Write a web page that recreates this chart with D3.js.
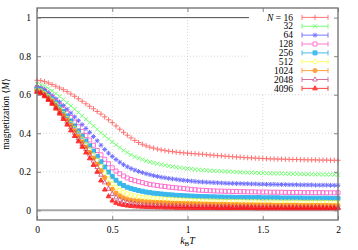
<!DOCTYPE html>
<html><head><meta charset="utf-8">
<script src="https://cdn.jsdelivr.net/npm/d3@7"></script>
<style>
html,body{margin:0;padding:0;background:#fff;}
svg{display:block;}
text{font-family:"Liberation Serif","DejaVu Serif",serif;fill:#000;}
</style></head>
<body>
<svg id="chart" width="358" height="250"></svg>
<script>
// ---- data ----
const sizes = ["16","32","64","128","256","512","1024","2048","4096"];
const xTicks = [0, 0.5, 1, 1.5, 2];
const xTickLabels = ["0","0.5","1","1.5","2"];
const yTicks = [0, 0.2, 0.4, 0.6, 0.8, 1];
const yTickLabels = ["0","0.2","0.4","0.6","0.8","1"];
const temps = d3.range(81).map(i => +(i * 0.025).toFixed(3));

const m16 = [.675,.673,.668,.661,.653,.644,.635,.626,.616,.604,.592,.579,.566,.553,.54,.527,.513,.5,.485,.47,.455,.438,.421,.405,.39,.376,.363,.352,.343,.335,.328,.323,.318,.314,.31,.307,.305,.302,.3,.298,.297,
.295,.294,.292,.291,.289,.287,.286,.284,.283,.281,.28,.278,.277,.276,.274,.273,.272,.271,.27,.269,.268,.267,.267,.266,.266,.265,.265,.264,.264,.263,.263,.262,.262,.262,.261,.261,.261,.26,.26,.26];
const m32 = [.655,.652,.645,.633,.62,.606,.592,.575,.558,.542,.525,.508,.491,.473,.456,.438,.42,.403,.387,.371,.355,.34,.326,.312,.3,.289,.279,.271,.264,.257,.251,.246,.242,.238,.234,.23,.227,.224,.222,.219,.217,
.215,.213,.211,.209,.208,.206,.205,.204,.203,.202,.201,.2,.199,.198,.197,.196,.196,.195,.194,.193,.193,.192,.192,.191,.191,.19,.19,.189,.189,.188,.188,.188,.187,.187,.187,.186,.186,.186,.185,.185];
const m64 = [.64,.636,.627,.612,.596,.579,.562,.544,.525,.505,.485,.465,.445,.425,.405,.383,.361,.338,.316,.297,.28,.264,.25,.237,.226,.217,.209,.202,.196,.19,.185,.18,.176,.172,.169,.166,.163,.161,.158,.156,.154,
.152,.15,.148,.147,.146,.145,.144,.143,.142,.141,.14,.14,.139,.139,.138,.138,.137,.137,.136,.136,.135,.135,.135,.134,.134,.134,.133,.133,.133,.132,.132,.132,.132,.131,.131,.131,.131,.13,.13,.13];
const m128 = [.635,.63,.62,.603,.585,.566,.547,.526,.505,.482,.458,.434,.41,.388,.365,.338,.311,.288,.265,.242,.221,.204,.19,.178,.168,.16,.154,.149,.144,.139,.135,.132,.129,.126,.124,.121,.119,.117,.115,.113,.111,
.109,.107,.105,.104,.103,.102,.101,.1,.1,.099,.099,.098,.098,.097,.097,.096,.096,.096,.095,.095,.095,.094,.094,.094,.094,.093,.093,.093,.093,.093,.092,.092,.092,.092,.092,.092,.091,.091,.091,.091];
const m256 = [.63,.625,.613,.596,.578,.558,.537,.514,.49,.464,.438,.411,.385,.36,.335,.308,.28,.252,.225,.199,.176,.156,.14,.129,.12,.113,.108,.103,.099,.095,.092,.089,.087,.085,.083,.081,.08,.078,.077,.076,.075,
.074,.073,.072,.071,.071,.07,.07,.069,.069,.068,.068,.068,.067,.067,.067,.066,.066,.066,.066,.065,.065,.065,.065,.065,.064,.064,.064,.064,.064,.064,.063,.063,.063,.063,.063,.063,.063,.062,.062,.062];
const m512 = [.625,.62,.607,.59,.572,.55,.527,.503,.478,.451,.424,.397,.37,.343,.315,.288,.26,.227,.195,.165,.14,.12,.105,.094,.086,.08,.075,.071,.068,.066,.064,.063,.061,.06,.059,.058,.057,.056,.055,.054,.053,
.053,.052,.051,.051,.05,.05,.049,.049,.048,.048,.048,.047,.047,.047,.046,.046,.046,.046,.045,.045,.045,.045,.045,.044,.044,.044,.044,.044,.044,.043,.043,.043,.043,.043,.043,.043,.042,.042,.042,.042];
const m1024 = [.62,.614,.601,.583,.565,.542,.518,.493,.468,.44,.412,.384,.355,.328,.3,.271,.24,.205,.17,.137,.11,.09,.075,.065,.058,.053,.05,.048,.046,.044,.043,.042,.041,.04,.039,.038,.037,.037,.036,.036,.035,
.035,.034,.034,.033,.033,.032,.032,.031,.031,.031,.03,.03,.03,.029,.029,.029,.029,.028,.028,.028,.028,.028,.027,.027,.027,.027,.027,.027,.027,.026,.026,.026,.026,.026,.026,.026,.026,.025,.025,.025];
const m2048 = [.618,.611,.597,.579,.56,.536,.511,.486,.46,.431,.403,.374,.345,.318,.29,.258,.225,.185,.145,.112,.085,.067,.055,.047,.042,.038,.035,.032,.03,.029,.028,.027,.026,.026,.025,.025,.024,.024,.023,.023,.022,
.022,.022,.021,.021,.021,.021,.02,.02,.02,.02,.02,.019,.019,.019,.019,.019,.019,.018,.018,.018,.018,.018,.018,.018,.018,.017,.017,.017,.017,.017,.017,.017,.017,.017,.017,.016,.016,.016,.016,.016];
const m4096 = [.615,.607,.592,.573,.553,.528,.502,.474,.445,.415,.386,.358,.33,.3,.27,.236,.2,.155,.108,.073,.051,.039,.032,.028,.025,.023,.021,.02,.019,.018,.017,.017,.016,.016,.015,.015,.015,.014,.014,.014,.014,
.013,.013,.013,.013,.013,.013,.013,.012,.012,.012,.012,.012,.012,.012,.012,.012,.012,.011,.011,.011,.011,.011,.011,.011,.011,.011,.011,.011,.011,.011,.011,.011,.011,.011,.011,.011,.011,.011,.011,.011];

const seriesValues = [m16, m32, m64, m128, m256, m512, m1024, m2048, m4096];
const colors = ["#ff4d4d","#4dff4d","#4d4dff","#ff4dc4","#0aa6e8","#ffff33","#ff8400","#c8447f","#ff0000"];
const markerTypes = ["plus","cross","star","osquare","fsquare","ocircle","fcircle","otri","ftri"];

// ---- layout ----
const svg = d3.select("#chart");
const L = 37, R = 338, T = 8, B = 220;
const x = d3.scaleLinear().domain([0, 2]).range([L, R]);
const y = d3.scaleLinear().domain([-0.05, 1.05]).range([B, T]);

function markerPath(type){
  const p = d3.path();
  if (type === "plus"){ p.moveTo(-2.6,0); p.lineTo(2.6,0); p.moveTo(0,-2.6); p.lineTo(0,2.6); }
  else if (type === "cross"){ p.moveTo(-2,-2); p.lineTo(2,2); p.moveTo(-2,2); p.lineTo(2,-2); }
  else if (type === "star"){ p.moveTo(-2.4,0); p.lineTo(2.4,0); p.moveTo(0,-2.4); p.lineTo(0,2.4);
    p.moveTo(-1.7,-1.7); p.lineTo(1.7,1.7); p.moveTo(-1.7,1.7); p.lineTo(1.7,-1.7); }
  else if (type === "osquare" || type === "fsquare"){ p.rect(-2,-2,4,4); }
  else if (type === "ocircle" || type === "fcircle"){ p.arc(0,0,2.1,0,2*Math.PI); p.closePath(); }
  else { p.moveTo(0,-2.6); p.lineTo(2.3,1.5); p.lineTo(-2.3,1.5); p.closePath(); }
  return p.toString();
}
const filled = t => t === "fsquare" || t === "fcircle" || t === "ftri";

// grid
const grid = svg.append("g").attr("stroke","#c8c8c8").attr("stroke-width",0.7).attr("stroke-dasharray","1,2");
grid.selectAll(".gx").data(xTicks.filter(d => d > 0 && d < 2)).join("line")
  .attr("x1", d => x(d)).attr("x2", d => x(d)).attr("y1", T).attr("y2", B);
grid.selectAll(".gy").data(yTicks).join("line")
  .attr("x1", L).attr("x2", R).attr("y1", d => y(d)).attr("y2", d => y(d));

// reference lines at M = 1 and M = 0
svg.append("line").attr("x1", L).attr("x2", R).attr("y1", y(1)).attr("y2", y(1))
  .attr("stroke","#222").attr("stroke-width",0.8);
svg.append("line").attr("x1", L).attr("x2", R).attr("y1", y(0)).attr("y2", y(0))
  .attr("stroke","#a8a8a8").attr("stroke-width",2);

// series
seriesValues.forEach((vals, si) => {
  const t = markerTypes[si], c = colors[si];
  svg.append("g").attr("opacity",0.8).selectAll("path").data(vals).join("path")
    .attr("transform", (d,i) => `translate(${x(temps[i])},${y(d)})`)
    .attr("d", markerPath(t))
    .attr("fill", filled(t) ? c : "none")
    .attr("stroke", c).attr("stroke-width", 1);
});

// legend
const lg = svg.append("g");
lg.append("rect").attr("x",249).attr("y",T+1).attr("width",R-249).attr("height",85).attr("fill","#fff");
sizes.forEach((n, i) => {
  const yy = 17.4 + i * 8.87;
  const tx = lg.append("text").attr("x",293).attr("y",yy+3.2).attr("text-anchor","end").attr("font-size",9.5);
  if (i === 0){
    tx.append("tspan").attr("font-style","italic").text("N");
    tx.append("tspan").text(" = " + n);
  } else tx.text(n);
  const c = colors[i];
  const g = lg.append("g").attr("stroke", c).attr("stroke-width",1).attr("opacity",0.75);
  g.append("line").attr("x1",302).attr("x2",328).attr("y1",yy).attr("y2",yy);
  g.append("line").attr("x1",302).attr("x2",302).attr("y1",yy-2.5).attr("y2",yy+2.5);
  g.append("line").attr("x1",328).attr("x2",328).attr("y1",yy-2.5).attr("y2",yy+2.5);
  const t = markerTypes[i];
  g.append("path").attr("transform",`translate(315,${yy})`).attr("d", markerPath(t))
    .attr("fill", filled(t) ? c : (t==="plus"||t==="cross"||t==="star" ? "none" : "#fff"));
});

// axes
const tickCol = "#888";
const ax = svg.append("g").attr("transform",`translate(0,${B})`)
  .call(d3.axisBottom(x).tickValues(xTicks).tickFormat((d,i)=>xTickLabels[i]).tickSize(-4).tickPadding(6));
const axT = svg.append("g").attr("transform",`translate(0,${T})`)
  .call(d3.axisTop(x).tickValues(xTicks).tickFormat("").tickSize(-4));
const ay = svg.append("g").attr("transform",`translate(${L},0)`)
  .call(d3.axisLeft(y).tickValues(yTicks).tickFormat((d,i)=>yTickLabels[i]).tickSize(-4).tickPadding(6));
const ayR = svg.append("g").attr("transform",`translate(${R},0)`)
  .call(d3.axisRight(y).tickValues(yTicks).tickFormat("").tickSize(-4));
[ax, axT, ay, ayR].forEach(a => {
  a.select(".domain").remove();
  a.selectAll(".tick line").attr("stroke", tickCol).attr("stroke-width",1);
  a.selectAll("text").attr("font-family",'"Liberation Serif","DejaVu Serif",serif').attr("font-size",9.5).attr("fill","#000");
});

// frame
svg.append("rect").attr("x",L).attr("y",T).attr("width",R-L).attr("height",B-T)
  .attr("fill","none").attr("stroke","#777").attr("stroke-width",1.4);

// axis titles
const xl = svg.append("text").attr("x",(L+R)/2).attr("y",244).attr("text-anchor","middle").attr("font-size",10);
xl.append("tspan").attr("font-style","italic").text("k");
xl.append("tspan").attr("font-size",7).attr("dy",2).text("B");
xl.append("tspan").attr("font-style","italic").attr("dy",-2).text("T");

const yl = svg.append("text").attr("transform",`translate(9,${(T+B)/2}) rotate(-90)`)
  .attr("text-anchor","middle").attr("font-size",9.5);
yl.append("tspan").text("magnetization ⟨");
yl.append("tspan").attr("font-style","italic").text("M");
yl.append("tspan").text("⟩");
</script>
</body></html>
